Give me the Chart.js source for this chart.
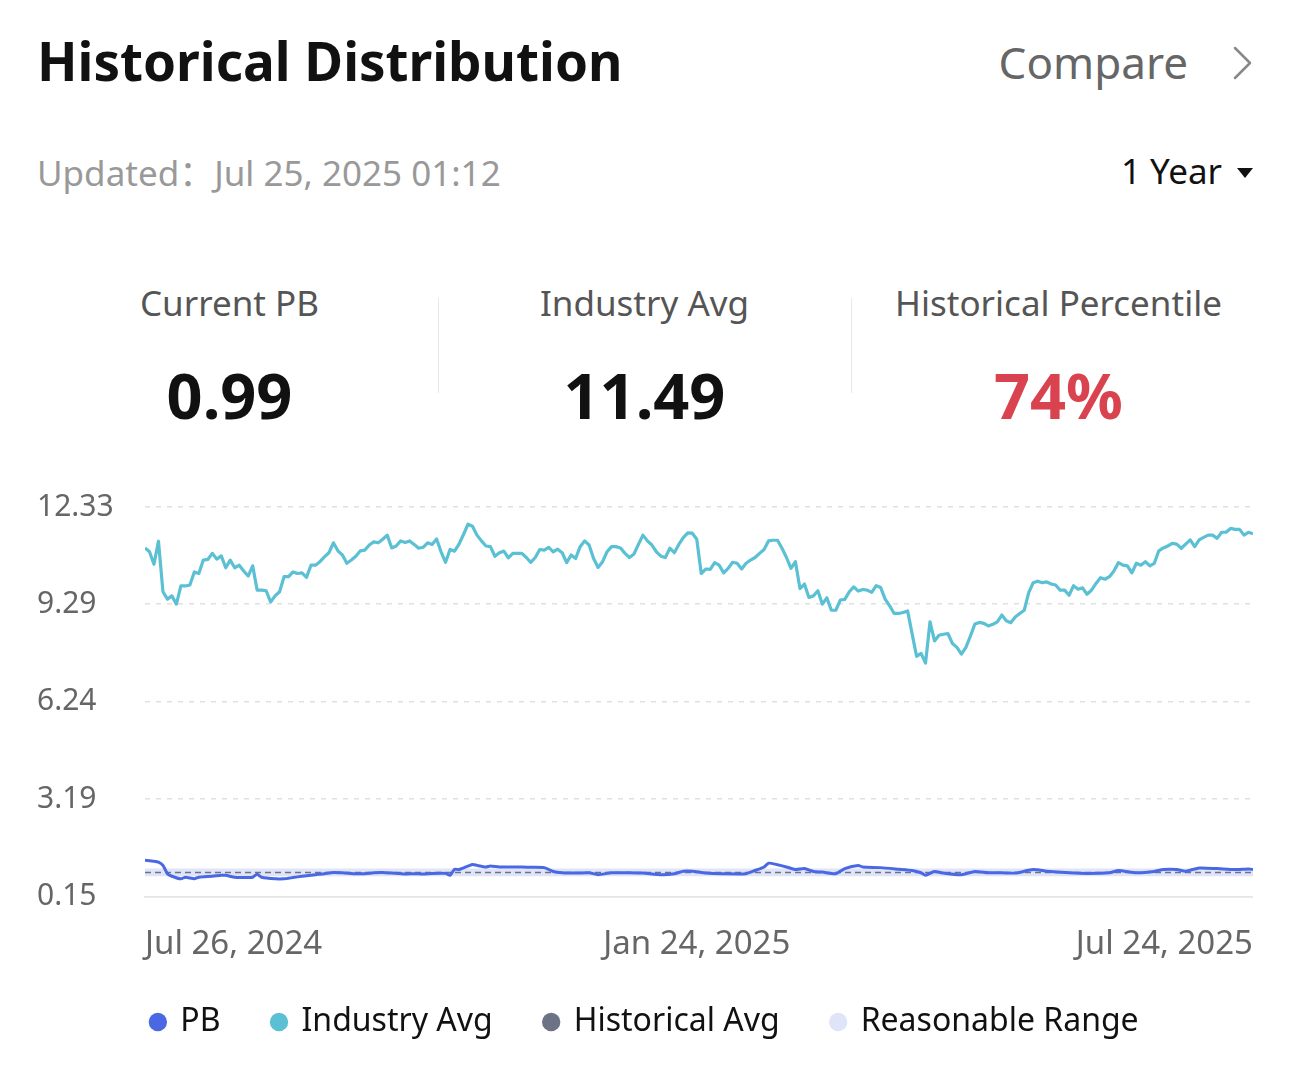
<!DOCTYPE html>
<html lang="en">
<head>
    <meta charset="UTF-8">
    <meta name="viewport" content="width=device-width, initial-scale=1.0">
    <title>Historical Distribution</title>
    <script src="https://cdn.jsdelivr.net/npm/chart.js"></script>
    <style>
        body {
            margin: 0;
            width: 1290px;
            height: 1085px;
            background: #fff;
            font-family: "Noto Sans", sans-serif;
            position: relative;
            overflow: hidden;
        }
        .abs { position: absolute; line-height: 1; white-space: nowrap; }
        .title { left: 37px; top: 34px; font-size: 53px; font-weight: 700; color: #111; }
        .compare { right: 102px; top: 40px; font-size: 44px; color: #666; }
        .chevron { left: 1231px; top: 45px; }
        .updated { left: 37px; top: 153px; font-size: 35px; color: #999; }
        .updated .colon { font-family: "Noto Sans CJK SC", sans-serif; }
        .range { right: 68px; top: 153px; font-size: 35px; color: #111; }
        .caret { left: 1237px; top: 167px; }
        .stat { top: 0; width: 415px; text-align: center; }
        .stat .label { position: absolute; left: 0; right: 0; top: 285px; font-size: 35px; color: #555; line-height: 1; }
        .stat .value { position: absolute; left: 0; right: 0; top: 363px; font-size: 63px; font-weight: 700; color: #111; line-height: 1; }
        .divider { position: absolute; top: 298px; width: 1px; height: 95px; background: #e8e8e8; }
        .chart-container { position: absolute; left: 37px; top: 489px; width: 1216px; height: 569px; }
    </style>
</head>
<body>
    <div class="abs title">Historical Distribution</div>
    <div class="abs compare">Compare</div>
    <svg class="abs chevron" width="24" height="36" viewBox="0 0 24 36">
        <polyline points="4,3 19,18 4,33" fill="none" stroke="#888" stroke-width="2.5" stroke-linecap="round" stroke-linejoin="round"/>
    </svg>
    <div class="abs updated">Updated<span class="colon">：</span>Jul 25, 2025 01:12</div>
    <div class="abs range">1 Year</div>
    <svg class="abs caret" width="16" height="12" viewBox="0 0 16 12">
        <polygon points="0,1 16,1 8,11" fill="#111"/>
    </svg>

    <div class="abs stat" style="left:22px"><div class="label">Current PB</div><div class="value">0.99</div></div>
    <div class="divider" style="left:438px"></div>
    <div class="abs stat" style="left:437px"><div class="label">Industry Avg</div><div class="value">11.49</div></div>
    <div class="divider" style="left:851px"></div>
    <div class="abs stat" style="left:851px"><div class="label">Historical Percentile</div><div class="value" style="color:#d9434f">74%</div></div>

    <div class="chart-container">
        <canvas id="pbChart"></canvas>
    </div>

    <script>
        // Industry average PB, one value per trading day (Jul 26, 2024 -> Jul 24, 2025)
        const industryAvg = [
            11.05, 10.93, 10.54, 11.26, 9.68, 9.45, 9.55, 9.29, 9.86, 9.86,
            9.89, 10.30, 10.25, 10.67, 10.69, 10.88, 10.70, 10.80, 10.43, 10.67,
            10.43, 10.51, 10.33, 10.17, 10.49, 9.73, 9.73, 9.71, 9.36, 9.55,
            9.68, 10.15, 10.15, 10.30, 10.25, 10.27, 10.13, 10.51, 10.51, 10.62,
            10.77, 10.90, 11.21, 10.96, 10.83, 10.57, 10.67, 10.79, 10.96, 10.98,
            11.14, 11.24, 11.21, 11.32, 11.45, 11.05, 11.11, 11.27, 11.22, 11.27,
            11.16, 11.04, 11.07, 11.21, 11.16, 11.33, 10.93, 10.60, 11.00, 10.95,
            11.17, 11.47, 11.79, 11.73, 11.45, 11.27, 11.11, 11.09, 10.79, 10.90,
            10.95, 10.74, 10.88, 10.88, 10.88, 10.75,
            10.60, 10.75, 11.00, 10.98, 11.07, 10.93, 11.01, 10.90, 10.59, 10.83,
            10.72, 11.09, 11.27, 11.14, 10.72, 10.44, 10.62, 10.93, 11.09, 11.09,
            11.05, 10.88, 10.75, 10.86, 11.16, 11.45, 11.27, 11.14, 10.93, 10.79,
            10.75, 11.04, 10.90, 11.16, 11.37, 11.52, 11.51, 11.32, 10.25, 10.39,
            10.38, 10.59, 10.51, 10.27, 10.41, 10.60, 10.57, 10.39, 10.57, 10.67,
            10.75, 10.88, 11.00, 11.27, 11.29, 11.29, 11.04, 10.75, 10.41, 10.62,
            9.78, 9.92, 9.50, 9.55, 9.71, 9.29, 9.49, 9.10, 9.10, 9.42,
            9.44, 9.68, 9.83, 9.70, 9.75, 9.73, 9.66, 9.87, 9.81, 9.45,
            9.24, 9.00, 9.00, 9.03, 9.08, 8.37, 7.66, 7.75, 7.45, 8.74,
            8.14, 8.32, 8.35, 8.37, 8.06, 7.94, 7.73, 7.94, 8.29, 8.67,
            8.72, 8.69, 8.61, 8.66, 8.74, 8.95, 8.77, 8.71, 8.89, 9.00,
            9.10, 9.65, 9.96, 10.01, 9.96, 9.99, 9.92, 9.89, 9.73, 9.73,
            9.57, 9.87, 9.76, 9.80, 9.60, 9.73, 9.94, 10.12, 10.07, 10.15,
            10.33, 10.59, 10.51, 10.49, 10.27, 10.57, 10.51, 10.62, 10.49, 10.57,
            10.96, 11.05, 11.11, 11.19, 11.17, 11.04, 11.17, 11.30, 11.09, 11.30,
            11.38, 11.45, 11.45, 11.35, 11.54, 11.54, 11.66, 11.63, 11.63, 11.45,
            11.54, 11.49
        ];

        // PB of the stock, read at these trading-day indices
        const pbIndex = [
            0, 2, 3, 4, 5, 6, 8, 9, 11, 12, 15, 17, 18, 20, 23, 24, 25, 26, 29, 31,
            33, 35, 38, 40, 42, 44, 47, 49, 51, 53, 55, 58, 60, 62, 64, 67, 68, 69, 70, 73,
            74, 76, 77, 79, 82, 84, 86, 89, 91, 93, 96, 99, 101, 104, 108, 111, 115, 118, 120, 122,
            125, 129, 134, 136, 138, 139, 141, 143, 145, 147, 149, 151, 154, 156, 159, 160, 164, 168, 171, 173,
            174, 176, 178, 182, 185, 188, 191, 194, 198, 201, 206, 210, 215, 217, 221, 225, 227, 230, 232, 235,
            239, 243, 246, 247
        ];
        const pbValues = [
            1.28, 1.25, 1.22, 1.12, 0.86, 0.78, 0.70, 0.75, 0.70, 0.75, 0.78, 0.81, 0.81, 0.75, 0.74, 0.75, 0.84, 0.75, 0.70, 0.70,
            0.74, 0.78, 0.83, 0.86, 0.90, 0.89, 0.86, 0.86, 0.89, 0.90, 0.88, 0.85, 0.86, 0.85, 0.87, 0.87, 0.81, 1.00, 0.99, 1.15,
            1.12, 1.07, 1.10, 1.07, 1.07, 1.07, 1.06, 1.05, 0.93, 0.89, 0.88, 0.89, 0.83, 0.89, 0.89, 0.88, 0.83, 0.86, 0.94, 0.94,
            0.88, 0.86, 0.86, 0.96, 1.07, 1.19, 1.14, 1.07, 0.99, 1.02, 0.93, 0.91, 0.86, 1.02, 1.12, 1.07, 1.05, 1.00, 0.96, 0.89,
            0.81, 0.93, 0.88, 0.83, 0.93, 0.89, 0.89, 0.88, 0.99, 0.94, 0.89, 0.87, 0.89, 0.96, 0.89, 0.93, 0.99, 0.99, 0.94, 1.04,
            1.02, 0.99, 1.01, 0.99
        ];

        const historicalAvg = 0.90;
        const reasonableRange = [0.78, 1.02];

        const yTickValues = [0.15, 3.19, 6.24, 9.29, 12.33];
        const yTickLabels = ['0.15', '3.19', '6.24', '9.29', '12.33'];
        const xTickIndex = [0, 123, 247];
        const xTickLabels = ['Jul 26, 2024', 'Jan 24, 2025', 'Jul 24, 2025'];

        const colors = {
            pb: '#4a68e4',
            industry: '#5bc0d3',
            hist: '#6b7385',
            range: '#dfe4f9'
        };

        const lastIdx = industryAvg.length - 1;
        const flat = v => [{ x: 0, y: v }, { x: lastIdx, y: v }];

        // pull the legend up a little closer to the date labels
        const legendShift = {
            id: 'legendShift',
            afterLayout: chart => {
                chart.legend.top -= 10;
                chart.legend.bottom -= 10;
            }
        };

        Chart.defaults.font.family = '"Noto Sans", sans-serif';

        const ctx = document.getElementById('pbChart').getContext('2d');
        const pbChart = new Chart(ctx, {
            type: 'line',
            data: {
                datasets: [{
                    label: 'PB',
                    data: pbIndex.map((d, i) => ({ x: d, y: pbValues[i] })),
                    borderColor: colors.pb,
                    backgroundColor: colors.pb,
                    borderWidth: 3,
                    pointRadius: 0,
                    tension: 0.2
                }, {
                    label: 'Industry Avg',
                    data: industryAvg.map((v, i) => ({ x: i, y: v })),
                    borderColor: colors.industry,
                    backgroundColor: colors.industry,
                    borderWidth: 3.2,
                    pointRadius: 0,
                    borderJoinStyle: 'round'
                }, {
                    label: 'Historical Avg',
                    data: flat(historicalAvg),
                    borderColor: colors.hist,
                    backgroundColor: colors.hist,
                    borderWidth: 1.5,
                    borderDash: [6, 4],
                    pointRadius: 0
                }, {
                    label: 'Reasonable Range',
                    data: flat(reasonableRange[1]),
                    borderWidth: 0,
                    borderColor: 'rgba(0,0,0,0)',
                    backgroundColor: colors.range,
                    pointRadius: 0,
                    fill: '+1'
                }, {
                    label: '',
                    data: flat(reasonableRange[0]),
                    borderWidth: 0,
                    borderColor: 'rgba(0,0,0,0)',
                    pointRadius: 0,
                    fill: false
                }]
            },
            plugins: [legendShift],
            options: {
                responsive: true,
                maintainAspectRatio: false,
                animation: false,
                layout: { padding: 0 },
                scales: {
                    x: {
                        type: 'linear',
                        min: 0,
                        max: lastIdx,
                        afterBuildTicks: s => { s.ticks = xTickIndex.map(v => ({ value: v })); },
                        // invisible tick marks push the labels down without adding side padding
                        grid: { drawOnChartArea: false, drawTicks: true, tickLength: 28, tickColor: 'rgba(0,0,0,0)' },
                        border: { display: true, color: '#e6e6e6', width: 1.5 },
                        ticks: {
                            align: 'inner',
                            maxRotation: 0,
                            padding: 0,
                            color: '#666',
                            font: { size: 33 },
                            callback: (v, i) => xTickLabels[i]
                        }
                    },
                    y: {
                        min: yTickValues[0],
                        max: yTickValues[yTickValues.length - 1],
                        afterBuildTicks: s => { s.ticks = yTickValues.map(v => ({ value: v })); },
                        afterFit: s => { s.width = 108; },
                        grid: {
                            drawTicks: false,
                            color: '#e0e0e0',
                            lineWidth: 1.5
                        },
                        border: {
                            display: false,
                            dash: c => (c.index === 0 ? [] : [5, 6])
                        },
                        ticks: {
                            crossAlign: 'far',
                            padding: 0,
                            color: '#666',
                            font: { size: 30 },
                            callback: (v, i) => yTickLabels[i]
                        }
                    }
                },
                plugins: {
                    tooltip: { enabled: false },
                    legend: {
                        position: 'bottom',
                        labels: {
                            usePointStyle: true,
                            boxWidth: 13,
                            boxHeight: 13,
                            padding: 52,
                            color: '#111',
                            font: { size: 32 },
                            generateLabels: chart => chart.data.datasets
                                .map((d, i) => ({
                                    text: d.label,
                                    datasetIndex: i,
                                    fillStyle: d.backgroundColor,
                                    strokeStyle: d.backgroundColor,
                                    lineWidth: 0,
                                    pointStyle: 'circle',
                                    fontColor: '#111'
                                }))
                                .filter(item => item.text)
                        }
                    }
                }
            }
        });
    </script>
</body>
</html>
